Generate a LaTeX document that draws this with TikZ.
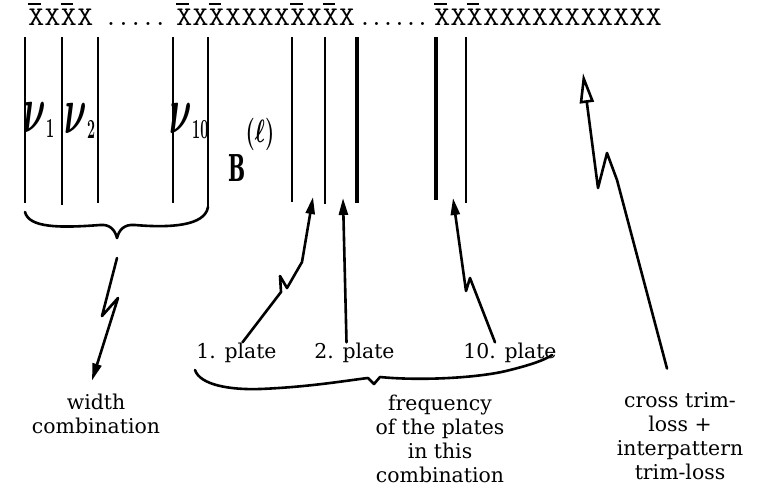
\documentclass[tikz,border=0pt]{standalone}
\usepackage{fontspec}
\usepackage{graphicx}
\usetikzlibrary{arrows.meta}

\newfontfamily\labfont{DejaVu Serif}
\newfontfamily\typefont{Latin Modern Mono}

% x with a bar
\newcommand{\barx}{\rlap{\rule[0.74em]{0.4em}{0.06em}}X}
% handwritten width symbol
\newcommand{\hnu}[1]{{\boldmath\scalebox{1.4}[2.7]{$\nu$}}\raisebox{-5pt}{\scalebox{0.75}[1.45]{\fontsize{19}{19}\selectfont\bfseries #1}}}

\tikzset{
  typew/.style={font=\typefont\fontsize{27}{27}\selectfont, inner sep=0pt},
  plateline/.style={line width=#1},
  plateline/.default=2.4pt,
  handline/.style={line width=2.6pt, line join=round, line cap=round},
  hand/.style={handline, -{Triangle[length=17pt,width=9pt]}},
  lab/.style={font=\labfont\fontsize{20.4}{24}\selectfont, inner sep=0pt, align=center},
  hw/.style={inner sep=0pt, font=\fontsize{28}{28}\selectfont}
}

\begin{document}
\begin{tikzpicture}[x=1pt,y=-1pt]
  \useasboundingbox (0,0) rectangle (767,491);

  % header row
  \node[typew, anchor=base west] (g1) at (28,25) {\scalebox{1.17}[1]{\barx X\barx X}};
  \node[typew, anchor=base west] (d1) at (104,25) {\addfontfeature{LetterSpace=-6}.....};
  \node[typew, anchor=base west] (g2) at (176,25) {\scalebox{1.17}[1]{\barx X\barx XXXX\barx X\barx X}};
  \node[typew, anchor=base west] (d2) at (358,25) {\addfontfeature{LetterSpace=-9}......};
  \node[typew, anchor=base west] (g3) at (434,25) {\scalebox{1.17}[1]{\barx X\barx XXXXXXXXXXX}};

  % plates
  \foreach \x/\yb/\w in {25/203/2.4, 62/205/2.4, 98/203/2.4, 173/203/2.4, 208/207/2.4,
      292/202/2.2, 325/204/2.6, 357/203/3.6, 436/200/3.6, 466/203/2.8}
    \draw[plateline=\w pt] (\x,37) -- (\x,\yb);

  \node[hw] (n1) at (39,120) {\hnu{1}};
  \node[hw] (n2) at (80,121) {\hnu{2}};
  \node[hw] (n10) at (189,121) {\hnu{10}};
  \node[hw] (bb) at (237,168) {\scalebox{0.72}[1.32]{\labfont\bfseries B}};
  \node[hw] (bl) at (260,134) {\scalebox{0.85}[1.3]{\fontsize{25}{25}\selectfont\boldmath$(\ell)$}};

  % braces
  \draw[handline] (25,212) .. controls (29,228) and (60,228) .. (100,225)
    .. controls (110,224) and (115,230) .. (117,238) coordinate (wb)
    .. controls (119,230) and (124,224) .. (135,225)
    .. controls (170,228) and (205,226) .. (208,207);
  \draw[handline] (195,370) .. controls (200,385) and (230,390) .. (260,389)
    .. controls (310,387) and (350,380) .. (368,378)
    -- (374,384) coordinate (pb) -- (380,377)
    .. controls (420,381) and (480,378) .. (510,370)
    .. controls (530,365) and (545,360) .. (552,355);

  % labels
  \node[lab, anchor=base] (p1) at (236.5,358) {1. plate};
  \node[lab, anchor=base] (p2) at (354.5,358) {2. plate};
  \node[lab, anchor=base] (p10) at (510,358) {10. plate};
  \node[lab, anchor=north] (wc) at (96,393.5) {width\\combination};
  \node[lab, anchor=north] (fq) at (440,394.5) {frequency\\of the plates\\in this\\combination};
  \node[lab, anchor=north] (ct) at (680,392.5) {cross trim-\\loss +\\interpattern\\trim-loss};

  % arrow ends
  \coordinate (t1) at (313,197);
  \coordinate (t2) at (343,198);
  \coordinate (t10) at (453,198);
  \coordinate (tx) at (583,73);

  \draw[hand] ([yshift=-20pt]wb) -- (102,316) -- (118,298) -- ([xshift=-4pt,yshift=13pt]wc.north);
  \draw[hand] ([xshift=6pt]p1.north) -- (281,292) -- (280,276) -- (287,288) -- (302,262) -- (t1);
  \draw[hand] ([xshift=-8pt]p2.north) -- (t2);
  \draw[hand] ([xshift=-15pt]p10.north) -- (470,278) -- (466,291) -- (t10);
  \draw[handline, -{Triangle[open, length=30pt, width=14pt]}]
    ([xshift=-13pt,yshift=24pt]ct.north) -- (617,180) -- (607,153) -- (598,188) -- (tx);

\end{tikzpicture}
\end{document}
